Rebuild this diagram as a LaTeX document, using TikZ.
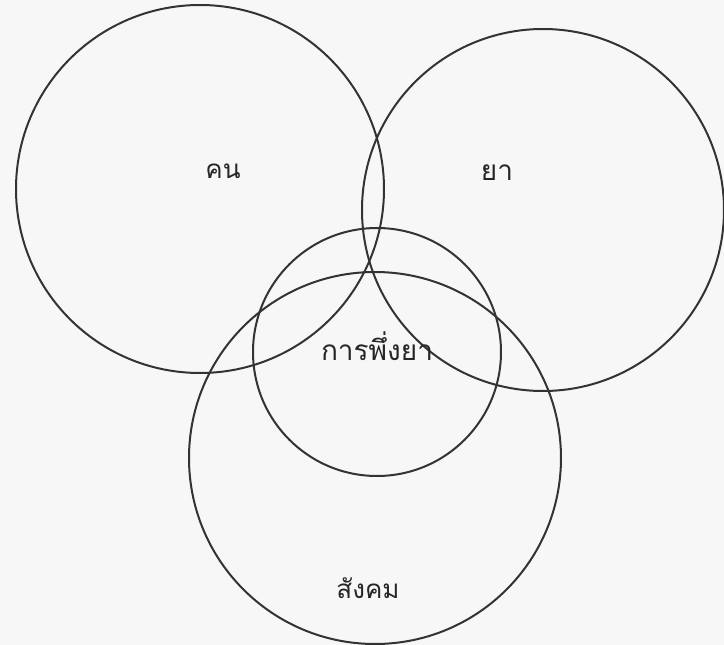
\documentclass[tikz,border=0pt]{standalone}
\usepackage{fontspec}
\newfontfamily\thaifont[Script=Thai]{Loma}
\begin{document}
\begin{tikzpicture}[x=1pt,y=-1pt,
  ring/.style={circle, draw=black!80, line width=2pt, inner sep=0pt},
  lbl/.style={font=\thaifont\fontsize{26}{30}\selectfont, text=black!85, inner sep=0pt}]
\fill[black!3] (0,0) rectangle (724,645);
\useasboundingbox (0,0) rectangle (724,645);
\node[ring, minimum size=368pt] (kon) at (200,189) {};
\node[ring, minimum size=362pt] (ya) at (543,210) {};
\node[ring, minimum size=372pt] (sangkhom) at (375,458) {};
\node[ring, minimum size=248pt] (phueng) at (377,352) {};
\node[lbl] (tkon) at (223,171) {คน};
\node[lbl, font=\thaifont\fontsize{28}{32}\selectfont] (tya) at (497,173) {ยา};
\node[lbl, font=\thaifont\fontsize{28}{32}\selectfont] (tphueng) at (377,346) {การพึ่งยา};
\node[lbl] (tsangkhom) at (368,588) {สังคม};
\end{tikzpicture}
\end{document}
